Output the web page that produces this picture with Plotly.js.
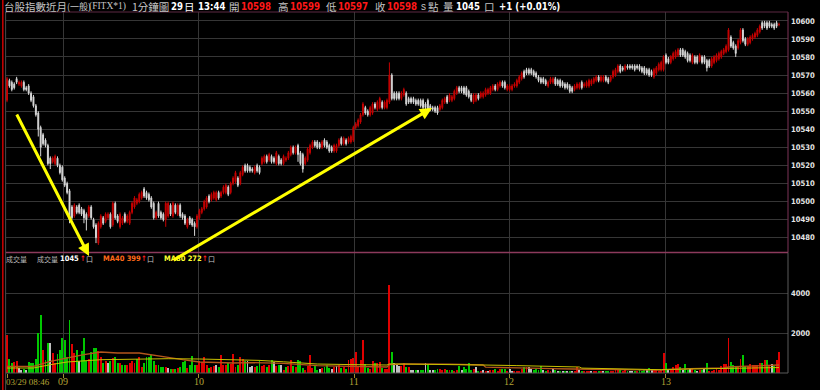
<!DOCTYPE html>
<html><head><meta charset="utf-8">
<script src="https://cdn.plot.ly/plotly-3.0.1.min.js"></script>
<style>html,body{margin:0;padding:0;background:#000;}#chart{width:820px;height:390px;}</style>
</head><body><div id="chart"></div>
<script>
// ---- data ----
const openP = [
10556,10567,10566,10565,10568,10565,10564,10566,10563,10564,
10560,10558,10553,10549,10541,10537,10534,10531,10524,10522,
10521,10524,10520,10519,10513,10510,10506,10497,10492,10497,
10498,10496,10495,10493,10492,10497,10490,10487,10477,10486,
10491,10489,10491,10493,10487,10499,10492,10486,10488,10493,
10489,10488,10494,10497,10499,10500,10502,10507,10505,10504,
10502,10499,10491,10499,10494,10493,10490,10492,10498,10492,
10498,10493,10498,10493,10492,10486,10491,10490,10488,10486,
10491,10494,10496,10497,10503,10501,10502,10501,10505,10503,
10505,10505,10508,10505,10510,10511,10513,10510,10515,10520,
10520,10519,10518,10516,10520,10519,10521,10522,10525,10523,
10525,10524,10521,10525,10523,10521,10523,10524,10526,10530,
10527,10531,10527,10526,10521,10523,10527,10530,10533,10533,
10532,10530,10534,10533,10531,10530,10528,10528,10531,10535,
10532,10534,10533,10533,10534,10541,10542,10544,10548,10552,
10550,10548,10549,10554,10551,10552,10555,10552,10552,10555,
10570,10560,10560,10560,10557,10559,10560,10557,10557,10557,
10556,10556,10556,10556,10554,10556,10553,10552,10552,10552,
10551,10552,10555,10558,10556,10556,10557,10560,10563,10563,
10563,10563,10561,10559,10555,10556,10559,10558,10558,10559,
10560,10560,10562,10564,10562,10564,10566,10566,10562,10562,
10562,10564,10564,10566,10568,10572,10573,10573,10573,10572,
10571,10569,10568,10568,10567,10564,10566,10566,10568,10567,
10567,10566,10565,10565,10564,10563,10562,10563,10563,10566,
10564,10564,10564,10565,10566,10567,10569,10567,10567,10569,
10568,10567,10569,10570,10572,10575,10574,10573,10575,10575,
10575,10575,10575,10575,10574,10574,10573,10573,10572,10569,
10571,10573,10573,10573,10581,10579,10577,10579,10580,10581,
10584,10584,10583,10582,10581,10577,10580,10580,10578,10580,
10580,10578,10578,10575,10577,10578,10579,10580,10582,10583,
10584,10591,10588,10586,10585,10588,10595,10590,10587,10588,
10590,10591,10592,10594,10599,10599,10599,10599,10598,10598,
10599,10598];
const highP = [
10569,10568,10567,10566,10569,10567,10567,10567,10564,10565,
10561,10559,10554,10550,10542,10538,10535,10532,10525,10525,
10526,10525,10521,10520,10514,10511,10507,10498,10499,10498,
10499,10497,10496,10494,10498,10498,10491,10488,10489,10493,
10492,10494,10494,10494,10500,10500,10493,10494,10492,10494,
10493,10495,10500,10503,10502,10505,10506,10508,10506,10505,
10503,10500,10495,10500,10495,10494,10500,10500,10499,10500,
10499,10499,10499,10494,10493,10491,10492,10491,10489,10493,
10496,10497,10501,10503,10504,10505,10506,10506,10506,10506,
10509,10510,10509,10511,10514,10517,10514,10517,10520,10521,
10521,10520,10519,10520,10521,10520,10525,10526,10526,10527,
10526,10525,10528,10526,10524,10526,10525,10528,10531,10531,
10531,10532,10528,10527,10525,10530,10532,10534,10534,10534,
10533,10534,10535,10534,10532,10531,10532,10532,10535,10536,
10536,10535,10536,10537,10542,10544,10546,10549,10555,10553,
10551,10553,10555,10555,10556,10558,10556,10556,10557,10577,
10571,10561,10561,10561,10561,10563,10561,10558,10558,10558,
10557,10557,10557,10557,10555,10557,10554,10553,10553,10553,
10554,10557,10558,10559,10560,10559,10562,10564,10564,10564,
10564,10564,10562,10560,10560,10560,10560,10561,10561,10563,
10563,10564,10565,10565,10566,10567,10567,10567,10565,10565,
10565,10566,10568,10570,10572,10573,10574,10574,10574,10573,
10572,10570,10569,10569,10568,10567,10569,10569,10569,10568,
10568,10567,10566,10566,10565,10564,10565,10566,10566,10567,
10566,10567,10568,10568,10569,10570,10570,10570,10570,10570,
10569,10570,10573,10574,10576,10576,10575,10576,10576,10576,
10576,10576,10576,10576,10575,10575,10574,10574,10573,10574,
10575,10577,10578,10581,10582,10580,10581,10583,10584,10585,
10585,10585,10584,10583,10582,10582,10581,10581,10582,10581,
10581,10579,10579,10580,10581,10582,10583,10584,10585,10587,
10596,10592,10589,10587,10590,10596,10596,10591,10591,10592,
10593,10594,10596,10598,10600,10600,10600,10600,10599,10599,
10600,10599];
const lowP = [
10555,10563,10561,10562,10565,10564,10563,10561,10561,10559,
10555,10552,10547,10536,10525,10531,10530,10520,10518,10521,
10520,10519,10515,10511,10508,10504,10488,10490,10491,10493,
10493,10492,10488,10484,10491,10490,10485,10477,10476,10485,
10487,10488,10490,10485,10486,10490,10488,10485,10487,10488,
10488,10487,10493,10496,10498,10499,10501,10502,10501,10500,
10496,10490,10490,10491,10490,10489,10486,10491,10492,10491,
10493,10492,10491,10490,10487,10485,10487,10486,10481,10485,
10490,10493,10495,10496,10499,10500,10501,10500,10501,10502,
10504,10504,10503,10504,10509,10510,10508,10509,10514,10516,
10516,10516,10516,10515,10516,10515,10520,10521,10521,10522,
10521,10521,10520,10520,10520,10520,10522,10523,10525,10526,
10526,10522,10520,10516,10520,10522,10526,10529,10530,10529,
10529,10529,10530,10529,10527,10527,10527,10527,10530,10531,
10531,10531,10532,10532,10533,10540,10541,10543,10547,10548,
10547,10547,10548,10551,10550,10551,10551,10551,10551,10554,
10556,10556,10556,10556,10556,10558,10553,10554,10554,10554,
10553,10553,10552,10551,10551,10550,10550,10550,10549,10548,
10550,10551,10554,10554,10555,10555,10556,10559,10560,10560,
10559,10558,10557,10555,10554,10555,10556,10557,10557,10558,
10559,10559,10561,10561,10561,10563,10563,10562,10561,10561,
10561,10563,10563,10565,10567,10568,10570,10570,10570,10569,
10568,10566,10565,10565,10564,10563,10565,10565,10564,10564,
10563,10563,10562,10562,10560,10560,10561,10562,10562,10562,
10563,10563,10563,10564,10565,10566,10566,10566,10566,10566,
10565,10566,10568,10569,10571,10571,10572,10572,10573,10573,
10573,10572,10573,10572,10571,10570,10570,10569,10569,10568,
10570,10572,10572,10572,10576,10576,10576,10578,10579,10580,
10580,10580,10579,10577,10577,10576,10576,10576,10577,10576,
10576,10572,10574,10574,10576,10577,10578,10579,10581,10582,
10583,10585,10584,10580,10584,10587,10588,10586,10586,10587,
10589,10590,10591,10593,10595,10596,10595,10596,10596,10595,
10596,10597];
const closeP = [
10568,10564,10562,10563,10566,10566,10566,10562,10562,10560,
10556,10553,10548,10540,10530,10532,10531,10521,10521,10524,
10525,10520,10516,10512,10509,10505,10490,10491,10498,10494,
10494,10493,10491,10490,10497,10491,10486,10480,10488,10492,
10488,10493,10493,10486,10499,10491,10489,10493,10491,10489,
10492,10494,10499,10502,10501,10504,10505,10503,10502,10501,
10497,10491,10494,10492,10491,10490,10499,10499,10493,10499,
10494,10498,10492,10491,10488,10490,10488,10487,10486,10492,
10495,10496,10500,10502,10500,10504,10505,10505,10502,10505,
10508,10509,10504,10510,10513,10516,10509,10516,10519,10517,
10517,10517,10517,10519,10517,10516,10524,10525,10522,10526,
10522,10522,10527,10521,10521,10525,10524,10527,10530,10527,
10530,10526,10521,10518,10524,10529,10531,10533,10531,10530,
10530,10533,10531,10530,10528,10528,10531,10531,10534,10532,
10535,10532,10535,10536,10541,10543,10545,10548,10554,10549,
10548,10552,10554,10552,10555,10557,10552,10555,10556,10570,
10557,10557,10557,10557,10560,10562,10554,10555,10555,10555,
10554,10554,10553,10552,10552,10551,10551,10551,10550,10549,
10553,10556,10557,10555,10559,10558,10561,10563,10561,10561,
10560,10559,10558,10556,10559,10559,10557,10560,10560,10562,
10562,10563,10564,10562,10565,10566,10564,10563,10564,10564,
10564,10565,10567,10569,10571,10569,10571,10571,10571,10570,
10569,10567,10566,10566,10565,10566,10568,10568,10565,10565,
10564,10564,10563,10563,10561,10561,10564,10565,10565,10563,
10565,10566,10567,10567,10568,10569,10567,10569,10569,10567,
10566,10569,10572,10573,10575,10572,10573,10575,10574,10574,
10574,10573,10574,10573,10572,10571,10571,10570,10570,10573,
10574,10576,10577,10580,10577,10577,10580,10582,10583,10584,
10581,10581,10580,10578,10578,10581,10577,10577,10581,10577,
10577,10574,10575,10579,10580,10581,10582,10583,10584,10586,
10595,10586,10585,10582,10589,10595,10589,10587,10590,10591,
10592,10593,10595,10597,10596,10597,10596,10597,10597,10596,
10597,10598];
const volume = [
1900,700,500,550,600,250,170,180,170,530,
480,480,700,2000,2900,1150,650,1500,1500,1000,
500,950,1150,1750,1650,800,2650,1450,1000,1150,
600,1100,1750,600,700,1050,1250,1250,1100,800,
480,620,480,580,760,800,520,480,380,400,
400,480,600,520,700,800,320,520,800,800,
880,620,420,420,320,320,320,240,200,200,
220,240,320,570,600,250,400,850,380,400,
620,560,800,400,240,300,350,400,320,880,
400,400,500,430,940,320,420,820,700,600,
600,300,330,280,330,670,370,420,280,420,
670,530,330,420,420,170,280,330,630,330,
300,670,580,250,170,330,920,250,330,170,
220,250,280,420,250,220,280,330,420,250,
280,200,630,700,750,1030,300,670,1630,470,
250,220,580,500,500,550,250,220,220,4420,
1030,500,420,330,370,500,280,280,170,170,
130,170,130,170,500,420,170,170,170,220,
220,170,220,130,170,170,120,170,330,170,
280,220,500,170,220,300,80,80,170,80,
120,170,130,200,120,200,200,220,120,200,
80,80,80,120,200,280,280,280,200,130,
200,130,330,130,80,130,80,250,170,120,
80,80,80,120,80,80,120,280,170,120,
120,80,80,120,80,120,120,120,120,120,
120,120,120,130,130,170,120,220,120,120,
80,120,80,130,80,130,170,250,130,170,
170,120,170,1000,500,170,220,280,420,470,
280,170,450,170,250,250,170,120,170,130,
220,500,120,120,130,220,170,370,470,450,
1750,550,420,280,330,700,920,330,330,450,
420,420,420,500,500,630,630,420,450,370,
630,1045];
const ma40Idx = [0,11,18,25,32,39,46,55,59,67,73,80,94,101,115,129,143,158,159,165,184,198,199,212,226,235,247,263,272,274,284,298,300,305,312,321];
const ma40 =    [330,330,580,750,915,1050,1000,1000,915,780,665,550,500,520,480,370,330,300,420,450,440,400,290,240,220,200,170,140,140,165,220,250,300,330,370,399];
const ma80Idx = [0,11,18,25,39,52,67,80,94,105,115,122,129,143,158,159,170,184,198,212,226,238,239,247,263,272,274,284,298,300,305,321];
const ma80 =    [250,250,415,550,665,700,715,700,665,630,560,500,450,420,400,455,450,430,400,370,330,300,245,220,170,165,180,200,220,245,250,272];
const timeTickIdx  = [0, 23.3, 79.8, 144.3, 208.9, 274];
const timeTickText = ['03/29 08:46', '09', '10', '11', '12', '13'];
const priceTicks = [10480,10490,10500,10510,10520,10530,10540,10550,10560,10570,10580,10590,10600];
const volTicks = [2000, 4000];

// ---- geometry helpers (pixel -> paper) ----
const L = 6, R = 788, T = 12, B = 373;
const px2x = px => (px - L) / (R - L);
const py2y = py => (B - py) / (B - T);
const split = py2y(252.5);
const XR = [-0.416, 324.74];
const idx2paper = v => (v - XR[0]) / (XR[1] - XR[0]);

const idx = closeP.map((_, i) => i);
const RED = '#e00000', GRN = '#00c800', GRY = '#c0c0c0';
const volColors = closeP.map((c, i) => {
  const ref = i === 0 ? openP[0] : closeP[i - 1];
  return c > ref ? RED : (c < ref ? GRN : GRY);
});

const NUM = 'DejaVu Sans Condensed, DejaVu Sans, sans-serif';
const CJK = 'Noto Sans CJK TC, Noto Sans CJK SC, sans-serif';

const traces = [
  {type: 'candlestick', x: idx, open: openP, high: highP, low: lowP, close: closeP,
   xaxis: 'x', yaxis: 'y', whiskerwidth: 0, hoverinfo: 'skip',
   increasing: {line: {color: '#c80000', width: 1}, fillcolor: '#c80000'},
   decreasing: {line: {color: '#d8d8d8', width: 1}, fillcolor: '#d8d8d8'}},
  {type: 'bar', x: idx, y: volume, xaxis: 'x', yaxis: 'y2', width: 0.8,
   marker: {color: volColors, line: {width: 0}}, hoverinfo: 'skip'},
  {type: 'scatter', mode: 'lines', x: ma40Idx, y: ma40, xaxis: 'x', yaxis: 'y2',
   line: {color: '#b4561c', width: 1.3}, hoverinfo: 'skip'},
  {type: 'scatter', mode: 'lines', x: ma80Idx, y: ma80, xaxis: 'x', yaxis: 'y2',
   line: {color: '#c8c000', width: 1}, hoverinfo: 'skip'}
];

function T_(px, py, text, color, family, size, bold, anchor) {
  return {xref: 'paper', yref: 'paper', x: px2x(px), y: py2y(py), xanchor: anchor || 'left', yanchor: 'middle',
    text: text, showarrow: false, font: {family: family, size: size, color: color, weight: bold ? 'bold' : 'normal'}};
}
const HG = '#c4c4c4', HR = '#ff1818', HW = '#ffffff';
const annotations = [
  T_(2, 7, '台股指數近月', HG, CJK, 10.5, false),
  T_(65, 7, '(一般)', HG, CJK, 9, false),
  T_(87, 7, '(FITX*1)', HG, 'Liberation Serif, serif', 9.5, false),
  T_(130, 7, '1分鐘圖', HG, CJK, 10.5, false),
  T_(169, 7, '29', HW, NUM, 9.6, true),
  T_(182, 7, '日', HW, CJK, 10.5, false),
  T_(196, 7, '13:44', HW, NUM, 9.6, true),
  T_(227, 7, '開', HG, CJK, 10.5, false),
  T_(239, 7, '10598', HR, NUM, 9.6, true),
  T_(276, 7, '高', HG, CJK, 10.5, false),
  T_(288, 7, '10599', HR, NUM, 9.6, true),
  T_(324, 7, '低', HG, CJK, 10.5, false),
  T_(336, 7, '10597', HR, NUM, 9.6, true),
  T_(373, 7, '收', HG, CJK, 10.5, false),
  T_(385, 7, '10598', HR, NUM, 9.6, true),
  T_(419, 7, 's', HG, 'Liberation Sans, sans-serif', 10, false),
  T_(426, 7, '點', HG, CJK, 10.5, false),
  T_(441, 7, '量', HG, CJK, 10.5, false),
  T_(454, 7, '1045', HW, NUM, 9.6, true),
  T_(482, 7, '口', HG, CJK, 10.5, false),
  T_(497, 7, '+1 (+0.01%)', HW, NUM, 9.6, true),
  // volume legend
  T_(4, 258.5, '成交量', '#b8b8b8', CJK, 7, false),
  T_(35, 258.5, '成交量', '#b8b8b8', CJK, 7, false),
  T_(58, 258.5, '1045', HW, NUM, 7.5, true),
  T_(78, 258.5, '↑', '#ff2020', NUM, 7.5, true),
  T_(84, 258.5, '口', '#c8c8c8', CJK, 7, false),
  T_(101, 258.5, 'MA40 399', '#ff6a1a', NUM, 7.5, true),
  T_(139, 258.5, '↑', '#ff2020', NUM, 7.5, true),
  T_(145, 258.5, '口', '#c8c8c8', CJK, 7, false),
  T_(162, 258.5, 'MA80 272', '#ffff30', NUM, 7.5, true),
  T_(200, 258.5, '↑', '#ff2020', NUM, 7.5, true),
  T_(206, 258.5, '口', '#c8c8c8', CJK, 7, false),
  // arrows
  {xref: 'paper', yref: 'paper', x: px2x(89), y: py2y(256), axref: 'pixel', ayref: 'pixel', ax: -73, ay: -143,
   text: '', showarrow: true, arrowcolor: '#ffff00', arrowwidth: 3, arrowhead: 2, arrowsize: 0.8},
  {xref: 'paper', yref: 'paper', x: px2x(432), y: py2y(108), axref: 'pixel', ayref: 'pixel', ax: -260, ay: 153,
   text: '', showarrow: true, arrowcolor: '#ffff00', arrowwidth: 3, arrowhead: 2, arrowsize: 0.8}
];
// time labels under the volume panel (first one left-aligned, the rest centred on their ticks)
timeTickIdx.forEach((v, k) => {
  annotations.push({xref: 'paper', yref: 'paper', x: k === 0 ? px2x(4) : idx2paper(v), y: py2y(381.5),
    xanchor: k === 0 ? 'left' : 'center', yanchor: 'middle', text: timeTickText[k], showarrow: false,
    font: {family: 'Liberation Serif, serif', size: k === 0 ? 9 : 10, color: '#b4a434'}});
});

function line(x0, y0, x1, y1, color, w) {
  return {type: 'line', xref: 'paper', yref: 'paper', x0: x0, y0: y0, x1: x1, y1: y1,
          line: {color: color, width: w || 1}, layer: 'above'};
}
const shapes = [
  line(px2x(2.8), py2y(390), px2x(2.8), py2y(0), '#c00000', 1.6),
  line(px2x(5.6), py2y(390), px2x(5.6), 1, '#4a4a4a', 1),
  line(0, 1, 1, 1, '#5c2842', 1.2),
  line(1, split, 1, 1, '#6a2c4a', 1.2),
  line(0, split, 1, split, '#8c3a5c', 1.5),
  line(1, 0, 1, split, '#5a5a5a', 1),
  line(0, 0, 1, 0, '#5a5a5a', 1)
];

const GRID = '#363636';
const axisFont = {family: NUM, size: 7.6, color: '#e6e6e6', weight: 'bold'};
const layout = {
  width: 820, height: 390,
  margin: {l: L, r: 820 - R, t: T, b: 390 - B, pad: 0},
  paper_bgcolor: '#000', plot_bgcolor: '#000',
  showlegend: false, boxgap: 0.45, bargap: 0,
  xaxis: {anchor: 'y2', range: XR, tickmode: 'array', tickvals: timeTickIdx, ticktext: timeTickIdx.map(() => ''),
          showgrid: true, gridcolor: GRID, gridwidth: 1, zeroline: false, showline: false,
          ticks: 'outside', ticklen: 4, tickcolor: '#a09030', tickwidth: 1,
          rangeslider: {visible: false}, fixedrange: true},
  yaxis: {domain: [split, 1], range: [10471.8, 10604.9], side: 'right', tickmode: 'array', tickvals: priceTicks,
          tickformat: 'd', showgrid: true, gridcolor: GRID, zeroline: false, showline: false, ticks: '', ticklabelstandoff: 2,
          tickfont: axisFont, fixedrange: true},
  yaxis2: {domain: [0, split], range: [0, 6025], side: 'right', tickmode: 'array', tickvals: volTicks,
           tickformat: 'd', showgrid: true, gridcolor: GRID, zeroline: false, showline: false, ticks: '', ticklabelstandoff: 2,
           tickfont: axisFont, fixedrange: true},
  annotations: annotations,
  shapes: shapes
};

Plotly.newPlot('chart', traces, layout, {staticPlot: true, displayModeBar: false});
</script>
</body></html>
